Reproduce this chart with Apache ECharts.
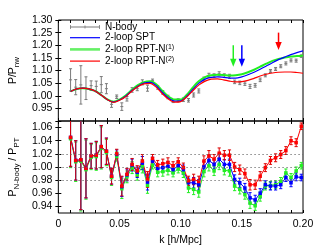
<!DOCTYPE html>
<html><head><meta charset="utf-8">
<script src="https://cdn.jsdelivr.net/npm/echarts@6/dist/echarts.min.js"></script>
<style>html,body{margin:0;padding:0;background:#fff}#c{width:319px;height:247px}</style>
</head><body><div id="c"></div>
<script>
// ---- data ----
const kN = [0.0100,0.0142,0.0184,0.0226,0.0268,0.0310,0.0351,0.0393,0.0435,0.0477,0.0519,0.0561,0.0603,0.0645,0.0687,0.0729,0.0770,0.0812,0.0854,0.0896,0.0938,0.0980,0.1022,0.1064,0.1106,0.1148,0.1190,0.1231,0.1273,0.1315,0.1357,0.1399,0.1441,0.1483,0.1525,0.1567,0.1609,0.1650,0.1692,0.1734,0.1776,0.1818,0.1860,0.1902,0.1944,0.1986];
const nbody = [1.063,1.034,1.043,1.030,1.040,1.037,1.044,1.028,0.966,0.996,0.957,0.988,1.023,1.028,1.053,1.030,1.060,1.033,1.013,0.995,0.979,0.982,0.984,0.982,1.003,1.019,1.066,1.081,1.080,1.087,1.080,1.077,1.055,1.051,1.048,1.037,1.041,1.063,1.081,1.098,1.106,1.117,1.128,1.140,1.139,1.157];
const errN = [0.044,0.030,0.076,0.045,0.019,0.021,0.032,0.020,0.012,0.007,0.015,0.009,0.009,0.008,0.010,0.012,0.006,0.007,0.007,0.007,0.006,0.006,0.007,0.007,0.008,0.008,0.008,0.008,0.007,0.008,0.007,0.008,0.007,0.007,0.007,0.008,0.007,0.007,0.006,0.006,0.006,0.006,0.006,0.006,0.006,0.005];

const kCurve = [0.010,0.015,0.020,0.025,0.030,0.035,0.040,0.045,0.050,0.055,0.060,0.065,0.070,0.075,0.080,0.085,0.090,0.095,0.100,0.105,0.110,0.115,0.120,0.125,0.130,0.135,0.140,0.145,0.150,0.155,0.160,0.165,0.170,0.175,0.180,0.185,0.190,0.195,0.200];
const curveSPT  = [1.017,1.027,1.030,1.027,1.019,1.003,0.985,0.975,0.983,0.998,1.020,1.038,1.050,1.053,1.040,1.013,0.991,0.979,0.980,0.998,1.025,1.050,1.066,1.073,1.075,1.073,1.070,1.070,1.075,1.083,1.093,1.105,1.118,1.131,1.143,1.153,1.163,1.171,1.178];
const curveRPT1 = [1.017,1.027,1.030,1.027,1.019,1.003,0.986,0.976,0.985,1.001,1.023,1.042,1.054,1.057,1.045,1.020,0.997,0.985,0.985,1.004,1.033,1.058,1.074,1.081,1.083,1.082,1.080,1.081,1.085,1.093,1.103,1.115,1.127,1.138,1.146,1.151,1.155,1.157,1.159];
const curveRPT2 = [1.017,1.027,1.030,1.027,1.019,1.003,0.985,0.974,0.982,0.996,1.018,1.036,1.047,1.049,1.034,1.008,0.987,0.975,0.977,0.995,1.020,1.043,1.058,1.066,1.067,1.063,1.058,1.055,1.056,1.061,1.069,1.078,1.085,1.090,1.093,1.094,1.094,1.092,1.089];

const ratioSPT  = [1.045,1.010,1.011,0.998,1.017,1.018,1.031,1.024,0.986,1.019,0.970,0.988,1.003,0.992,1.006,0.977,1.009,0.998,0.999,1.001,0.996,1.002,0.996,0.976,0.976,0.973,1.000,1.010,1.004,1.012,1.004,1.004,0.981,0.976,0.968,0.953,0.950,0.960,0.973,0.971,0.971,0.973,0.984,0.976,0.985,0.984];
const ratioRPT1 = [1.043,1.008,1.009,0.996,1.015,1.016,1.029,1.022,0.984,1.016,0.967,0.985,0.999,0.988,1.001,0.972,1.003,0.992,0.993,0.995,0.991,0.997,0.991,0.968,0.966,0.962,0.993,1.002,0.994,1.004,0.995,0.994,0.971,0.966,0.958,0.945,0.941,0.955,0.971,0.972,0.973,0.978,0.991,0.984,0.994,1.002];
const ratioRPT2 = [1.045,1.010,1.011,0.998,1.017,1.018,1.031,1.024,0.986,1.020,0.971,0.989,1.004,0.994,1.009,0.981,1.013,1.003,1.005,1.007,1.002,1.008,0.999,0.979,0.981,0.978,1.009,1.017,1.012,1.021,1.018,1.018,1.000,0.996,0.990,0.973,0.973,0.986,0.999,1.010,1.014,1.019,1.025,1.040,1.037,1.062];

const arrowK = [0.143,0.150,0.180];
const arrowTop = [1.200,1.200,1.250];
const arrowTip = [1.115,1.115,1.181];
const refLines = [0.98,1.00,1.02];

const xTicksLabels = [0,0.05,0.10,0.15,0.20];
const yTopLabels = [0.95,1.00,1.05,1.10,1.15,1.20,1.25,1.30];
const yTopTicks = [0.90,0.95,1.00,1.05,1.10,1.15,1.20,1.25,1.30];
const yBotLabels = [0.94,0.96,0.98,1.00,1.02,1.04,1.06];

// ---- styles ----
const FONT = 'Liberation Sans, Arial, Helvetica, sans-serif';
const C_RED = '#ff0000', C_BLUE = '#0000ff', C_GREEN = '#22ee22', C_GRAY = '#7a7a7a';
const arrowColors = [C_GREEN, C_BLUE, C_RED];

function errRender(color, capHalf, crossHalf) {
  return function (params, api) {
    const x = api.value(0), y = api.value(1), e = api.value(2);
    const p = api.coord([x, y]);
    const pt = api.coord([x, y + e]);
    const pb = api.coord([x, y - e]);
    const cs = params.coordSys;
    const top = Math.max(pt[1], cs.y), bot = Math.min(pb[1], cs.y + cs.height);
    const st = { stroke: color, lineWidth: 1 };
    const ch = [];
    if (bot > top) ch.push({ type: 'line', shape: { x1: p[0], y1: top, x2: p[0], y2: bot }, style: st });
    if (pt[1] >= cs.y) ch.push({ type: 'line', shape: { x1: p[0] - capHalf, y1: pt[1], x2: p[0] + capHalf, y2: pt[1] }, style: st });
    if (pb[1] <= cs.y + cs.height) ch.push({ type: 'line', shape: { x1: p[0] - capHalf, y1: pb[1], x2: p[0] + capHalf, y2: pb[1] }, style: st });
    if (crossHalf) {
      ch.push({ type: 'line', shape: { x1: p[0] - crossHalf, y1: p[1], x2: p[0] + crossHalf, y2: p[1] }, style: st });
    }
    return { type: 'group', children: ch };
  };
}

function arrowRender(params, api) {
  const i = params.dataIndex;
  const a = api.coord([api.value(0), api.value(1)]);
  const b = api.coord([api.value(0), api.value(2)]);
  const col = arrowColors[i];
  const hh = 8, hw = 3.2;
  return { type: 'group', children: [
    { type: 'line', shape: { x1: a[0], y1: a[1], x2: b[0], y2: b[1] - hh + 1 }, style: { stroke: col, lineWidth: 1.5 } },
    { type: 'polygon', shape: { points: [[b[0] - hw, b[1] - hh], [b[0] + hw, b[1] - hh], [b[0], b[1]]] }, style: { fill: col } }
  ]};
}

const nbodyData = kN.map((k, i) => [k, nbody[i], errN[i]]);
const pair = (xs, ys) => xs.map((x, i) => [x, ys[i]]);
const errData = (ys) => kN.map((k, i) => [k, ys[i], errN[i]]);
const arrowData = arrowK.map((k, i) => [k, arrowTop[i], arrowTip[i]]);

const tick = { show: true, inside: true, length: 3, lineStyle: { color: '#000', width: 1 } };
const G0 = { left: 58, top: 20, width: 245, height: 101 };
const G1 = { left: 58, top: 121, width: 245, height: 92 };

const xBase = (gi, pos) => ({
  type: 'value', gridIndex: gi, position: pos, min: 0, max: 0.2, interval: 0.01,
  axisLine: { show: false }, splitLine: { show: false },
  axisTick: tick, axisLabel: { show: false }
});
const yTopBase = (pos) => ({
  type: 'value', gridIndex: 0, position: pos, min: 0.9, max: 1.3, interval: 0.05,
  axisLine: { show: false }, splitLine: { show: false },
  axisTick: Object.assign({}, tick, { customValues: yTopTicks }), axisLabel: { show: false }
});
const yBotBase = (pos) => ({
  type: 'value', gridIndex: 1, position: pos, min: 0.93, max: 1.07, interval: 0.01,
  axisLine: { show: false }, splitLine: { show: false },
  axisTick: Object.assign({}, tick, { customValues: yBotLabels }), axisLabel: { show: false }
});

const xBottom = xBase(1, 'bottom');
xBottom.axisLabel = { show: true, customValues: xTicksLabels, margin: 6, fontSize: 10.5, fontFamily: FONT, color: '#000',
  formatter: v => (Math.abs(v) < 1e-9 ? '0' : v.toFixed(2)) };
xBottom.name = 'k [h/Mpc]';
xBottom.nameLocation = 'middle';
xBottom.nameGap = 22;
xBottom.nameTextStyle = { fontSize: 10.5, fontFamily: FONT, color: '#000' };

const yTopLeft = yTopBase('left');
yTopLeft.axisLabel = { show: true, customValues: yTopLabels, margin: 6, fontSize: 10.5, fontFamily: FONT, color: '#000', formatter: v => v.toFixed(2) };
yTopLeft.name = 'P/P{s|nw}';
yTopLeft.nameLocation = 'middle';
yTopLeft.nameRotate = 90;
yTopLeft.nameGap = 36;
yTopLeft.nameTextStyle = { fontSize: 10.5, fontFamily: FONT, color: '#000', rich: { s: { fontSize: 8, fontFamily: FONT, padding: [7, 0, 0, 0] } } };

const yBotLeft = yBotBase('left');
yBotLeft.axisLabel = { show: true, customValues: yBotLabels, margin: 6, fontSize: 10.5, fontFamily: FONT, color: '#000', formatter: v => v.toFixed(2) };
yBotLeft.name = 'P{s|N-body} / P{s|PT}';
yBotLeft.nameLocation = 'middle';
yBotLeft.nameRotate = 90;
yBotLeft.nameGap = 36;
yBotLeft.nameTextStyle = { fontSize: 10.5, fontFamily: FONT, color: '#000', rich: { s: { fontSize: 8, fontFamily: FONT, padding: [7, 0, 0, 0] } } };

const option = {
  animation: false,
  backgroundColor: '#fff',
  grid: [
    Object.assign({ show: true, borderColor: '#000', borderWidth: 1, backgroundColor: 'transparent' }, G0),
    Object.assign({ show: true, borderColor: '#000', borderWidth: 1, backgroundColor: 'transparent' }, G1)
  ],
  xAxis: [xBase(0, 'bottom'), xBase(0, 'top'), xBottom, xBase(1, 'top')],
  yAxis: [yTopLeft, yTopBase('right'), yBotLeft, yBotBase('right')],
  legend: {
    left: 70, top: 22, orient: 'vertical', padding: 0,
    itemWidth: 30, itemHeight: 10, itemGap: 0.7, selectedMode: false,
    textStyle: { fontSize: 10, fontFamily: FONT, color: '#000', lineHeight: 10,
      rich: { s: { fontSize: 7, fontFamily: FONT, padding: [0, 0, 5, 0] } } },
    formatter: function (name) {
      const m = name.match(/^(.*)\((\d)\)$/);
      return m ? m[1] + '{s|(' + m[2] + ')}' : name;
    },
    data: [
      { name: 'N-body', icon: 'path://M0,4.6h30v0.8h-30z M0,3h0.8v4h-0.8z M29.2,3h0.8v4h-0.8z M14.6,3.5h0.8v3h-0.8z' },
      { name: '2-loop SPT', icon: 'path://M0,0h30v1.2h-30z' },
      { name: '2-loop RPT-N(1)', icon: 'path://M0,0h30v2.6h-30z' },
      { name: '2-loop RPT-N(2)', icon: 'path://M0,0h30v1.2h-30z' }
    ]
  },
  series: [
    { name: 'N-body', type: 'custom', xAxisIndex: 0, yAxisIndex: 0, encode: { x: 0, y: 1 },
      itemStyle: { color: C_GRAY }, renderItem: errRender(C_GRAY, 1.5, 1.5), data: nbodyData },
    { name: '2-loop RPT-N(1)', type: 'line', xAxisIndex: 0, yAxisIndex: 0, symbol: 'none', smooth: 0.3,
      color: C_GREEN, itemStyle: { color: '#66f066' }, lineStyle: { width: 2, color: C_GREEN }, data: pair(kCurve, curveRPT1) },
    { name: '2-loop SPT', type: 'line', xAxisIndex: 0, yAxisIndex: 0, symbol: 'none', smooth: 0.3,
      color: C_BLUE, itemStyle: { color: C_BLUE }, lineStyle: { width: 1.2, color: C_BLUE }, data: pair(kCurve, curveSPT) },
    { name: '2-loop RPT-N(2)', type: 'line', xAxisIndex: 0, yAxisIndex: 0, symbol: 'none', smooth: 0.3,
      color: C_RED, itemStyle: { color: C_RED }, lineStyle: { width: 1.2, color: C_RED }, data: pair(kCurve, curveRPT2) },
    { name: 'arrows', type: 'custom', xAxisIndex: 0, yAxisIndex: 0, encode: { x: 0, y: 1 },
      renderItem: arrowRender, data: arrowData, silent: true },

    { name: 'refs', type: 'line', xAxisIndex: 2, yAxisIndex: 2, data: [], symbol: 'none',
      markLine: { silent: true, symbol: 'none', label: { show: false },
        lineStyle: { type: [1.5, 2.5], color: '#666', width: 0.8 },
        data: refLines.map(v => ({ yAxis: v })) } },

    { name: 'gErr', type: 'custom', xAxisIndex: 2, yAxisIndex: 2, encode: { x: 0, y: 1 },
      renderItem: errRender(C_GREEN, 1.6, 0), data: errData(ratioRPT1) },
    { name: 'gLine', type: 'line', xAxisIndex: 2, yAxisIndex: 2, symbol: 'rect', symbolSize: 3.5, showAllSymbol: true,
      itemStyle: { color: C_GREEN }, lineStyle: { width: 1, color: C_GREEN }, data: pair(kN, ratioRPT1) },
    { name: 'bErr', type: 'custom', xAxisIndex: 2, yAxisIndex: 2, encode: { x: 0, y: 1 },
      renderItem: errRender(C_BLUE, 1.6, 0), data: errData(ratioSPT) },
    { name: 'bLine', type: 'line', xAxisIndex: 2, yAxisIndex: 2, symbol: 'rect', symbolSize: 3.5, showAllSymbol: true,
      itemStyle: { color: C_BLUE }, lineStyle: { width: 1, color: C_BLUE }, data: pair(kN, ratioSPT) },
    { name: 'rErr', type: 'custom', xAxisIndex: 2, yAxisIndex: 2, encode: { x: 0, y: 1 },
      renderItem: errRender('#dd0000', 1.6, 0), data: errData(ratioRPT2) },
    { name: 'rLine', type: 'line', xAxisIndex: 2, yAxisIndex: 2, symbol: 'rect', symbolSize: 3.5, showAllSymbol: true,
      itemStyle: { color: C_RED }, lineStyle: { width: 1, color: C_RED }, data: pair(kN, ratioRPT2) }
  ]
};

const chart = echarts.init(document.getElementById('c'), null, { renderer: 'canvas' });
chart.setOption(option);
</script>
</body></html>
